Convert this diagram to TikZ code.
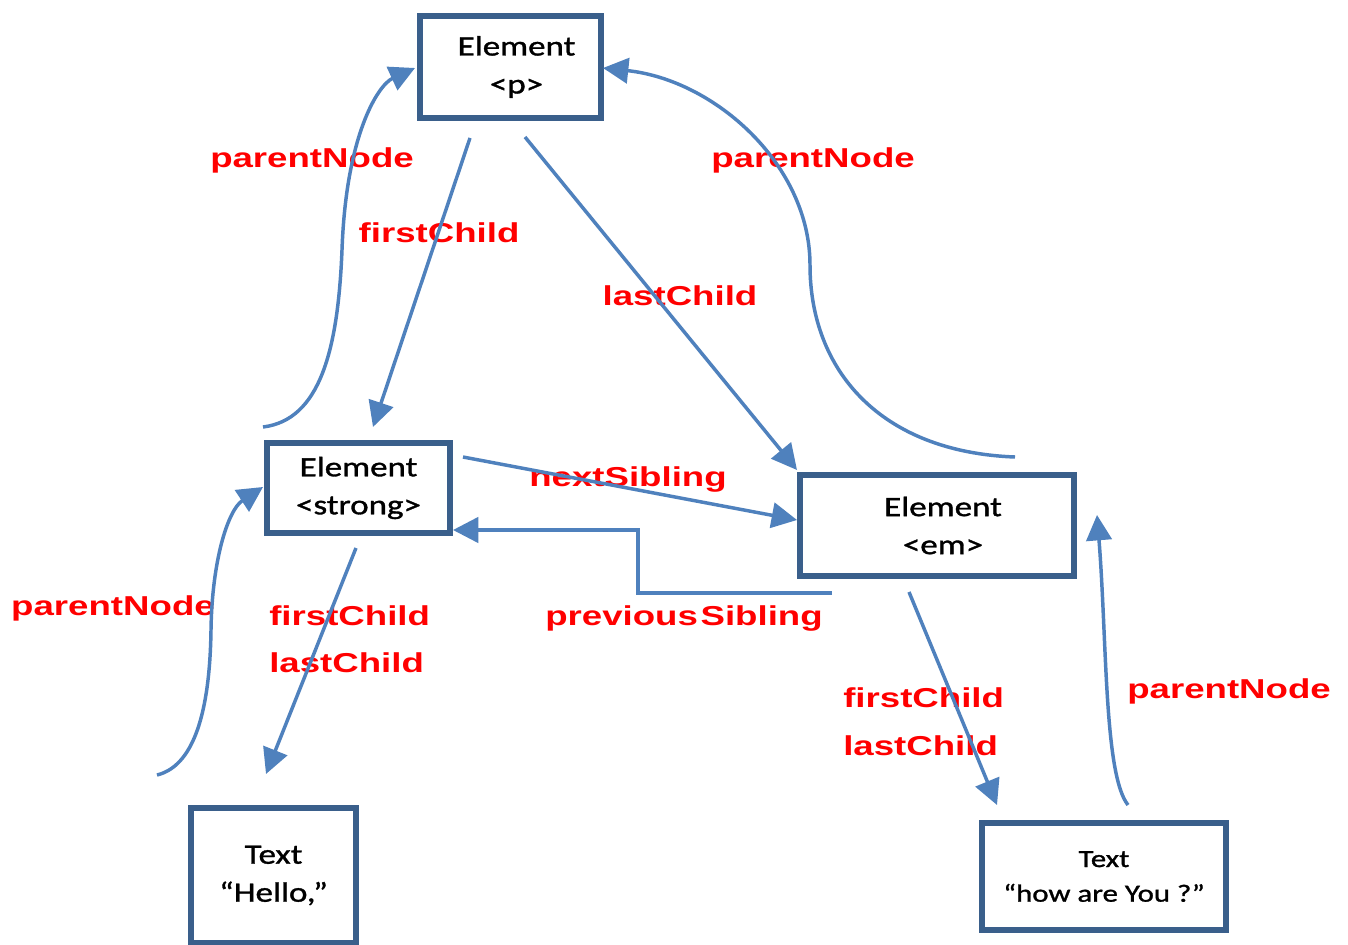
\documentclass[tikz,border=0pt]{standalone}
\usepackage{fontspec}
\setmainfont{Carlito}[FakeStretch=1.25,FakeBold=1.2]
\newfontfamily\labelfont{Liberation Sans}[FakeStretch=1.34]
\usetikzlibrary{arrows.meta}
\definecolor{linkblue}{HTML}{4F81BD}
\definecolor{boxblue}{HTML}{3A5F8B}
\definecolor{labred}{HTML}{FF0000}

\begin{document}
\begin{tikzpicture}[x=0.75pt,y=-0.75pt,
  domnode/.style={draw=boxblue, line width=4.5pt, fill=white, align=center,
    inner sep=0pt, font=\fontsize{21}{28.5}\selectfont},
  link/.style={draw=linkblue, line width=2.6pt,
    -{Triangle[length=19pt,width=19pt]}},
  linklabel/.style={text=labred, inner sep=0pt,
    font=\labelfont\bfseries\fontsize{20.5}{36}\selectfont}]

\useasboundingbox[fill=white] (0,0) rectangle (1348,945);

% DOM nodes
\node[domnode, minimum width=135.75pt, minimum height=76.5pt] (p) at (510.5,67) {\hspace*{9pt}Element\\\hspace*{9pt}<p>};
\node[domnode, minimum width=137.25pt, minimum height=67.5pt] (strong) at (358.5,488) {Element\\<strong>};
\node[domnode, minimum width=205.5pt, minimum height=75.75pt] (em) at (937,525.5) {\hspace*{9pt}Element\\\hspace*{9pt}<em>};
\node[domnode, minimum width=123.75pt, minimum height=101.25pt] (hello) at (273.5,875.5) {Text\\“Hello,”};
\node[domnode, minimum width=183pt, minimum height=80.25pt,
      font=\fontsize{18.5}{26}\selectfont] (how) at (1104,876.5) {Text\\“how are You ?”};

% labels
\node[linklabel, anchor=base] (pnA) at (312,167) {parentNode};
\node[linklabel, anchor=base] (fcA) at (439,242) {firstChild};
\node[linklabel, anchor=base] (pnB) at (813,167) {parentNode};
\node[linklabel, anchor=base] (lcA) at (680,305) {lastChild};
\node[linklabel, anchor=base] (nsA) at (628,486) {nextSibling};
\node[linklabel, anchor=base] (pnC) at (113,615) {parentNode};
\node[linklabel, anchor=base west] (fcB) at (269,625) {firstChild};
\node[linklabel, anchor=base west] (lcB) at (269,672) {lastChild};
\node[linklabel, anchor=base] (psA) at (684,625) {previous\kern2pt Sibling};
\node[linklabel, anchor=base west] (fcC) at (843,707) {firstChild};
\node[linklabel, anchor=base west] (lcC) at (843,755) {lastChild};
\node[linklabel, anchor=base] (pnD) at (1229,698) {parentNode};

% connector end points
\coordinate (pFirstOut) at (470,138);
\coordinate (strongFirstIn) at (373,427);
\coordinate (pLastOut) at (525,137);
\coordinate (emLastIn) at (797,470);
\coordinate (strongUpOut) at (263,427);
\coordinate (pLeftIn) at (415,68);
\coordinate (emUpOut) at (1015,457);
\coordinate (pRightIn) at (603,68);
\coordinate (strongNextOut) at (463,457);
\coordinate (emNextIn) at (797,520);
\coordinate (emPrevOut) at (832,593);
\coordinate (prevBend1) at (638,593);
\coordinate (prevBend2) at (638,530);
\coordinate (strongPrevIn) at (453,530);
\coordinate (strongChildOut) at (356,548);
\coordinate (helloIn) at (266,774);
\coordinate (helloUpOut) at (157,775);
\coordinate (strongLeftIn) at (263,487);
\coordinate (emChildOut) at (909,592);
\coordinate (howIn) at (997,805);
\coordinate (howUpOut) at (1128,805);
\coordinate (emRightIn) at (1097,515);

% connectors
\draw[link] (pFirstOut) -- (strongFirstIn);
\draw[link] (pLastOut) -- (emLastIn);
\draw[link] (strongUpOut) .. controls (320,420) and (338,350) .. (342,250)
                          .. controls (346,135) and (378,85) .. (pLeftIn);
\draw[link] (emUpOut) .. controls (880,452) and (810,370) .. (810,265)
                      .. controls (810,165) and (715,80) .. (pRightIn);
\draw[link] (strongNextOut) -- (emNextIn);
\draw[link] (emPrevOut) -- (prevBend1) -- (prevBend2) -- (strongPrevIn);
\draw[link] (strongChildOut) -- (helloIn);
\draw[link] (helloUpOut) .. controls (198,765) and (210,700) .. (211,630)
                         .. controls (212,560) and (228,510) .. (strongLeftIn);
\draw[link] (emChildOut) -- (howIn);
\draw[link] (howUpOut) .. controls (1104,775) and (1107,640) .. (emRightIn);

\end{tikzpicture}
\end{document}
